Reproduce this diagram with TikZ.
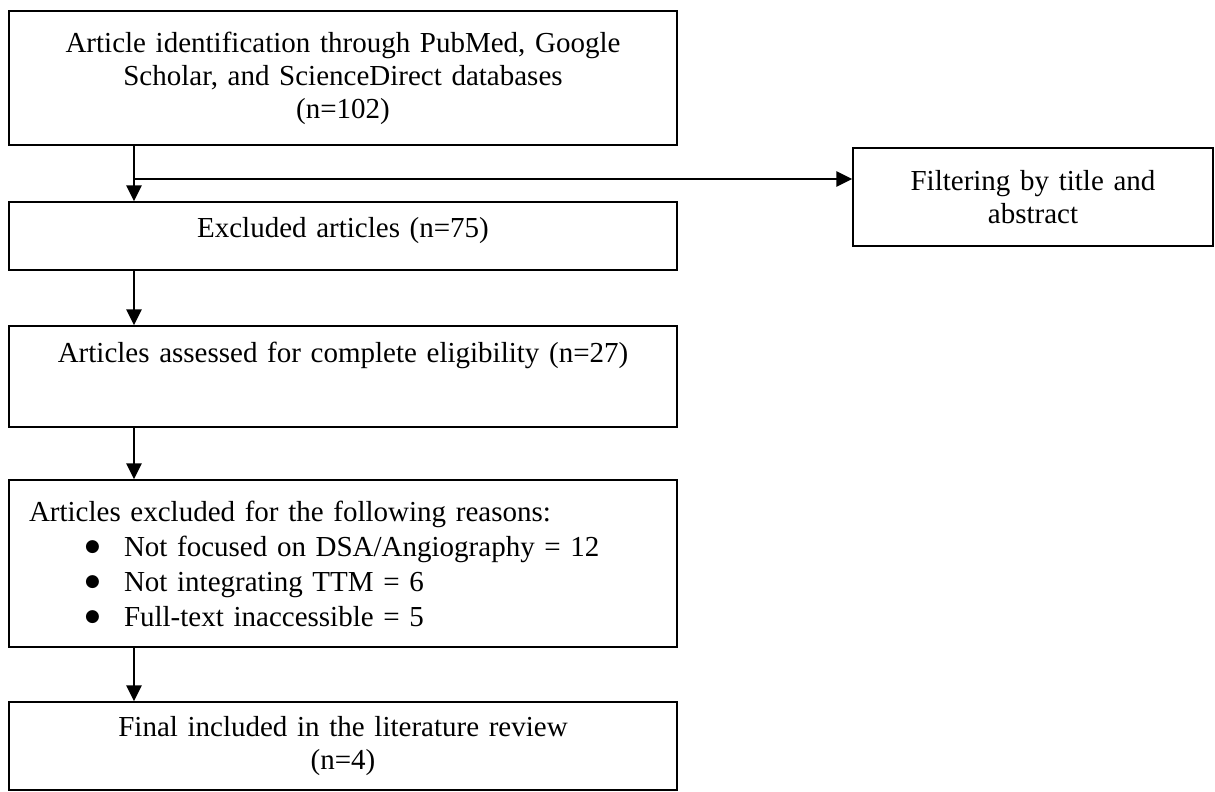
\documentclass[tikz,border=0pt]{standalone}
\usepackage{fontspec}
\setmainfont{Liberation Serif}
\newfontfamily\dotfont{DejaVu Sans}
\usetikzlibrary{arrows.meta}
\newcommand{\listdot}{\makebox[95pt][l]{\hspace{56pt}\raisebox{5pt}{\dotfont\fontsize{17}{17}\selectfont ●}}}
\begin{document}
\begin{tikzpicture}[x=1pt, y=-1pt,
		every node/.style={font=\fontsize{29}{33}\selectfont},
		box/.style={draw, rectangle, line width=1.3pt, inner xsep=20pt, inner ysep=0pt, text width=628pt, align=center},
		flow/.style={line width=2.6pt, -{Triangle[length=16pt,width=15pt]}}]
		\useasboundingbox (0,0) rectangle (1215,792);

		\node[box, minimum height=134pt] (ident) at (343,78) {Article identification through PubMed, Google\\ Scholar, and ScienceDirect databases\\ (n=102)};
		\node[box, minimum height=68pt, text depth=18pt] (excl) at (343,236) {Excluded articles (n=75)};
		\node[box, minimum height=101pt] (assess) at (343,376.5) {Articles assessed for complete eligibility (n=27)\\[6pt] \strut};
		\node[box, minimum height=167pt, align=left] (reasons) at (343,563.5) {Articles excluded for the following reasons:\\[2pt]
			\listdot Not focused on DSA/Angiography = 12\\[2pt]
			\listdot Not integrating TTM = 6\\[2pt]
			\listdot Full-text inaccessible = 5};
		\node[box, minimum height=88pt] (final) at (343,746) {Final included in the literature review\\ (n=4)};
		\node[box, text width=320pt, minimum height=98pt] (filter) at (1033,197) {Filtering by title and\\ abstract};

		\coordinate (split) at (134,179);
		\draw[flow] (ident.south -| split) -- (excl.north -| split);
		\draw[flow] (split) -- (split -| filter.west);
		\draw[flow] (excl.south -| split) -- (assess.north -| split);
		\draw[flow] (assess.south -| split) -- (reasons.north -| split);
		\draw[flow] (reasons.south -| split) -- (final.north -| split);

	\end{tikzpicture}
\end{document}
